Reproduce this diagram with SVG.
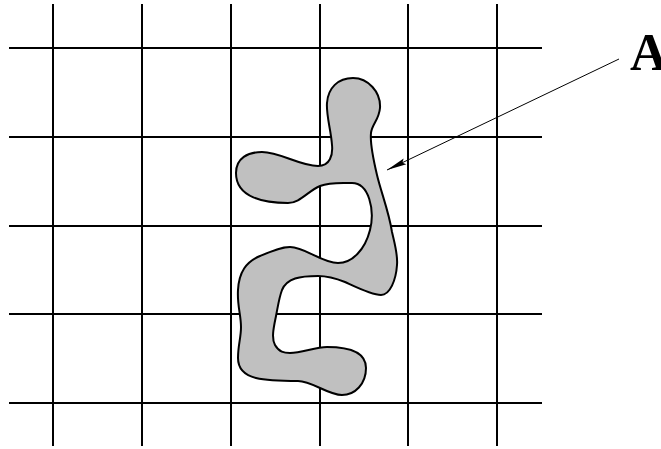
<svg xmlns="http://www.w3.org/2000/svg" width="661" height="449" viewBox="0 0 661 449">
  <style>
    .grid line { stroke: #000; stroke-width: 2; }
    .blob { fill: #c0c0c0; stroke: #000; stroke-width: 2; stroke-linejoin: round; }
    .leader { stroke: #000; stroke-width: 1; fill: none; }
    .label { font-family: "Liberation Serif", "Times New Roman", serif; font-weight: bold; font-size: 52px; fill: #000; }
  </style>
  <defs>
    <marker id="dart" markerUnits="userSpaceOnUse" markerWidth="24" markerHeight="10" viewBox="-22 -5 24 10" refX="0" refY="0" orient="auto">
      <path d="M0,0 L-20,-3.2 L-17,0 L-20,3.2 Z" fill="#000"/>
    </marker>
  </defs>
  <rect width="661" height="449" fill="#fff"/>
  <g id="grid" class="grid">
    <line x1="53" y1="4" x2="53" y2="446"/>
    <line x1="142" y1="4" x2="142" y2="446"/>
    <line x1="231" y1="4" x2="231" y2="446"/>
    <line x1="320" y1="4" x2="320" y2="446"/>
    <line x1="408" y1="4" x2="408" y2="446"/>
    <line x1="497" y1="4" x2="497" y2="446"/>
    <line x1="9" y1="48" x2="542" y2="48"/>
    <line x1="9" y1="137" x2="542" y2="137"/>
    <line x1="9" y1="226" x2="542" y2="226"/>
    <line x1="9" y1="314" x2="542" y2="314"/>
    <line x1="9" y1="403" x2="542" y2="403"/>
  </g>
  <g id="region-A">
    <path class="blob" d="M353,78 C368,78 381,92 380,108 C379,120 372,124 371,133 C370,142 373,158 377,175 C381,192 389,212 392,232 C395,245 398,255 397,265 C396,280 390,295 381,295 C372,295 358,288 345,282 C335,278 326,276 318,276 C300,276 287,278 282,290 C279,298 278,306 276,316 C274,326 271,338 275,345 C279,352 284,353 290,353 C302,353 315,347 327,347 C345,347 366,350 366,368 C366,384 355,395 342,395 C328,395 312,381 298,381 C282,381 268,381 256,378 C244,375 238,368 238,358 C238,345 241,338 241,327 C241,315 237,305 238,290 C239,272 246,262 260,256 C272,251 281,247 290,247 C305,247 322,263 338,263 C352,263 365,250 370,230 C375,210 369,183 352,183 C340,183 330,182 320,186 C308,191 300,203 288,203 C265,203 236,198 236,173 C236,158 248,152 262,152 C280,152 300,166 318,166 C330,166 333,155 332,145 C331,130 326,115 327,103 C328,88 338,78 353,78 Z"/>
  </g>
  <g id="label-A">
    <text class="label" x="630" y="70">A</text>
  </g>
  <g id="connectors">
    <line class="leader" x1="619" y1="59" x2="387" y2="170" marker-end="url(#dart)"/>
  </g>
</svg>
